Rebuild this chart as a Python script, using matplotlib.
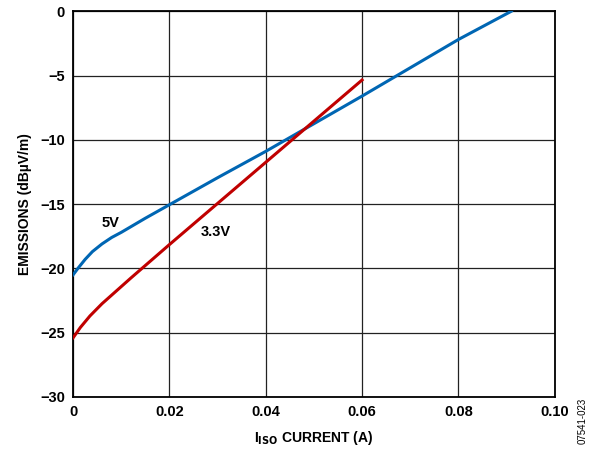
import numpy as np
import matplotlib.pyplot as plt

plt.rcParams['font.family'] = ['Liberation Sans', 'DejaVu Sans']
plt.rcParams['font.weight'] = 'bold'

# 5V supply
x_5v = [0.0, 0.001, 0.0025, 0.004, 0.006, 0.008, 0.01, 0.015, 0.02, 0.03, 0.04, 0.05, 0.06, 0.07, 0.08, 0.091]
y_5v = [-20.5, -20.0, -19.3, -18.7, -18.1, -17.6, -17.2, -16.1, -15.05, -12.95, -10.9, -8.75, -6.6, -4.4, -2.2, 0.0]

# 3.3V supply
x_33v = [0.0, 0.0015, 0.0035, 0.006, 0.009, 0.012, 0.016, 0.02, 0.03, 0.04, 0.05, 0.06]
y_33v = [-25.4, -24.6, -23.7, -22.75, -21.75, -20.75, -19.45, -18.15, -14.95, -11.75, -8.55, -5.35]

fig = plt.figure(figsize=(5.92, 4.49), dpi=100)
ax = fig.add_axes([0.1235, 0.116, 0.8135, 0.859])

ax.plot(x_5v, y_5v, color='#0066b3', lw=2.2, zorder=3)
ax.plot(x_33v, y_33v, color='#c00000', lw=2.2, zorder=3)

ax.set_xlim(0, 0.10)
ax.set_ylim(-30, 0)
ax.set_xticks([0, 0.02, 0.04, 0.06, 0.08, 0.10])
ax.set_xticklabels(['0', '0.02', '0.04', '0.06', '0.08', '0.10'])
ax.set_yticks(range(-30, 1, 5))
ax.set_yticklabels(['\u221230', '\u221225', '\u221220', '\u221215', '\u221210', '\u22125', '0'])
ax.tick_params(length=0, labelsize=10.5, pad=6)
ax.grid(True, color='#222222', lw=0.9)
for s in ax.spines.values():
    s.set_linewidth(1.3)

ax.text(0.0078, -16.5, '5V', fontsize=10.5, fontweight='bold', ha='center', va='center')
ax.text(0.0297, -17.2, '3.3V', fontsize=10.5, fontweight='bold', ha='center', va='center')

ax.set_ylabel('EMISSIONS (dB\u00b5V/m)', fontsize=10, fontweight='bold', labelpad=6)
ax.set_xlabel(r'I$_{\mathbf{ISO}}$ CURRENT (A)', fontsize=10, fontweight='bold', labelpad=7)

fig.text(0.985, 0.062, '07541-023', rotation=90, fontsize=7, fontweight='normal', ha='center', va='center')

fig.savefig('out.png', dpi=100)
